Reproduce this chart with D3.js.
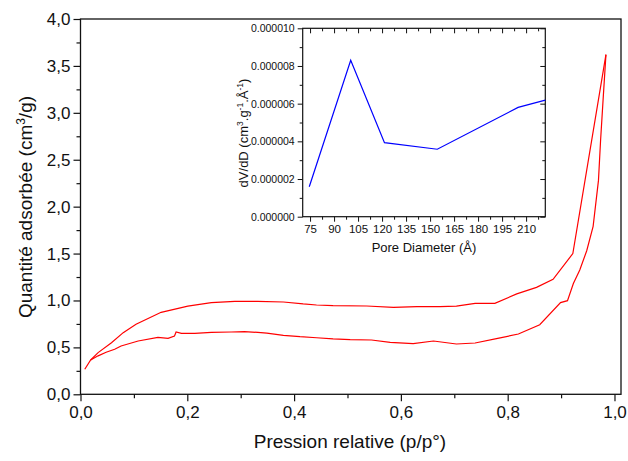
<!DOCTYPE html>
<html>
<head>
<meta charset="utf-8">
<script src="https://cdn.jsdelivr.net/npm/d3@7"></script>
<style>
  body { margin: 0; background: #fff; }
  text { font-family: "Liberation Sans", Arial, sans-serif; fill: #111; }
</style>
</head>
<body>
<script>
// isotherm, lower branch (adsorption) : relative pressure / quantity
var adsP = [0.008, 0.019, 0.033, 0.048, 0.064, 0.076, 0.108, 0.145, 0.164, 0.176, 0.179, 0.189, 0.214, 0.245, 0.282, 0.307, 0.332,
  0.349, 0.38, 0.411, 0.442, 0.473, 0.505, 0.545, 0.58, 0.623, 0.661, 0.704, 0.739, 0.779, 0.82, 0.86, 0.899, 0.912, 0.923, 0.935,
  0.948, 0.96, 0.97, 0.974, 0.979, 0.984];
var adsQ = [0.267, 0.366, 0.41, 0.448, 0.48, 0.515, 0.568, 0.607, 0.597, 0.622, 0.664, 0.65, 0.65, 0.66, 0.664, 0.667, 0.66,
  0.653, 0.629, 0.614, 0.603, 0.59, 0.582, 0.579, 0.554, 0.54, 0.568, 0.536, 0.547, 0.593, 0.643, 0.742, 0.977, 0.998, 1.18, 1.325,
  1.53, 1.79, 2.28, 2.71, 3.17, 3.62];
// upper branch (desorption)
var desP = [0.984, 0.922, 0.885, 0.854, 0.817, 0.776, 0.739, 0.704, 0.673, 0.63, 0.586, 0.536, 0.473, 0.442, 0.417, 0.38, 0.332,
  0.289, 0.245, 0.201, 0.151, 0.104, 0.08, 0.058, 0.033, 0.019];
var desQ = [3.62, 1.5, 1.226, 1.14, 1.07, 0.97, 0.97, 0.94, 0.934, 0.934, 0.927, 0.941, 0.945, 0.952, 0.963, 0.984, 0.99,
  0.99, 0.977, 0.94, 0.874, 0.746, 0.657, 0.55, 0.444, 0.366];

// inset : pore size distribution
var poreD = [74.5, 100.4, 121.5, 154.5, 205, 222];
var poreV = [1.59e-6, 8.3e-6, 3.93e-6, 3.58e-6, 5.8e-6, 6.19e-6];

var mainTicksX = [0, 0.2, 0.4, 0.6, 0.8, 1.0];
var mainTicksY = [0, 0.5, 1, 1.5, 2, 2.5, 3, 3.5, 4];
var insetTicksX = [75, 90, 105, 120, 135, 150, 165, 180, 195, 210];
var insetTicksY = [0, 2e-6, 4e-6, 6e-6, 8e-6, 1e-5];

var width = 628, height = 461;

var svg = d3.select("body").append("svg")
    .attr("width", width)
    .attr("height", height);

var comma = function(d) { return d3.format(".1f")(d).replace(".", ","); };

// ---- main plot ----
var x = d3.scaleLinear().domain([0, 1.0122]).range([80.5, 621]);
var y = d3.scaleLinear().domain([0, 4]).range([394.3, 19]);

var gMain = svg.append("g");

gMain.append("g")
    .attr("transform", "translate(0," + y(0) + ")")
    .call(d3.axisBottom(x).tickValues(d3.range(0.1, 1.01, 0.2)).tickSize(4).tickFormat(""));
gMain.append("g")
    .attr("transform", "translate(0," + y(0) + ")")
    .call(d3.axisBottom(x).tickValues(mainTicksX).tickSize(7).tickPadding(5).tickFormat(comma))
    .selectAll("text").style("font-size", "17px");

gMain.append("g")
    .attr("transform", "translate(" + x(0) + ",0)")
    .call(d3.axisLeft(y).tickValues(d3.range(0.25, 4, 0.5)).tickSize(4).tickFormat(""));
gMain.append("g")
    .attr("transform", "translate(" + x(0) + ",0)")
    .call(d3.axisLeft(y).tickValues(mainTicksY).tickSize(7).tickPadding(3).tickFormat(comma))
    .selectAll("text").style("font-size", "17px");

gMain.selectAll(".domain").remove();
gMain.selectAll(".tick line").attr("stroke", "#111").attr("stroke-width", 1.2);

gMain.append("rect")
    .attr("x", x(0)).attr("y", y(4))
    .attr("width", x.range()[1] - x(0))
    .attr("height", y(0) - y(4))
    .attr("fill", "none").attr("stroke", "#111").attr("stroke-width", 1.3);

var line = d3.line()
    .x(function(d) { return x(d[0]); })
    .y(function(d) { return y(d[1]); });

gMain.append("path")
    .datum(d3.zip(adsP, adsQ))
    .attr("d", line)
    .attr("fill", "none").attr("stroke", "#ff0000").attr("stroke-width", 1.2);
gMain.append("path")
    .datum(d3.zip(desP, desQ))
    .attr("d", line)
    .attr("fill", "none").attr("stroke", "#ff0000").attr("stroke-width", 1.2);

gMain.append("text")
    .attr("x", 350).attr("y", 448)
    .attr("text-anchor", "middle")
    .style("font-size", "19px")
    .text("Pression relative (p/p°)");

var yt = gMain.append("text")
    .attr("transform", "translate(32,207) rotate(-90)")
    .attr("text-anchor", "middle")
    .style("font-size", "19px");
yt.append("tspan").text("Quantité adsorbée (cm");
yt.append("tspan").attr("dy", -7).style("font-size", "12px").text("3");
yt.append("tspan").attr("dy", 7).text("/g)");

// ---- inset ----
var ix = d3.scaleLinear().domain([70.4, 222]).range([302.7, 545.3]);
var iy = d3.scaleLinear().domain([0, 1e-5]).range([216.7, 28.3]);

var gIn = svg.append("g");

gIn.append("rect")
    .attr("x", ix(70.4)).attr("y", iy(1e-5))
    .attr("width", ix(222) - ix(70.4))
    .attr("height", iy(0) - iy(1e-5))
    .attr("fill", "#fff");

var minorX = d3.range(82.5, 222, 15);
var minorY = d3.range(1e-6, 1e-5, 2e-6);

gIn.append("g")
    .attr("transform", "translate(0," + iy(0) + ")")
    .call(d3.axisBottom(ix).tickValues(minorX).tickSize(3).tickFormat(""));
gIn.append("g")
    .attr("transform", "translate(0," + iy(0) + ")")
    .call(d3.axisBottom(ix).tickValues(insetTicksX).tickSize(5).tickPadding(3))
    .selectAll("text").style("font-size", "11.5px");
gIn.append("g")
    .attr("transform", "translate(0," + iy(1e-5) + ")")
    .call(d3.axisBottom(ix).tickValues(minorX).tickSize(3).tickFormat(""));
gIn.append("g")
    .attr("transform", "translate(0," + iy(1e-5) + ")")
    .call(d3.axisBottom(ix).tickValues(insetTicksX).tickSize(5).tickFormat(""));

gIn.append("g")
    .attr("transform", "translate(" + ix(70.4) + ",0)")
    .call(d3.axisLeft(iy).tickValues(minorY).tickSize(3).tickFormat(""));
gIn.append("g")
    .attr("transform", "translate(" + ix(70.4) + ",0)")
    .call(d3.axisLeft(iy).tickValues(insetTicksY).tickSize(5).tickPadding(3).tickFormat(d3.format(".6f")))
    .selectAll("text").style("font-size", "10.5px");
gIn.append("g")
    .attr("transform", "translate(" + ix(222) + ",0)")
    .call(d3.axisLeft(iy).tickValues(minorY).tickSize(3).tickFormat(""));
gIn.append("g")
    .attr("transform", "translate(" + ix(222) + ",0)")
    .call(d3.axisLeft(iy).tickValues(insetTicksY).tickSize(5).tickFormat(""));

gIn.selectAll(".domain").remove();
gIn.selectAll(".tick line").attr("stroke", "#111").attr("stroke-width", 1);

gIn.append("rect")
    .attr("x", ix(70.4)).attr("y", iy(1e-5))
    .attr("width", ix(222) - ix(70.4))
    .attr("height", iy(0) - iy(1e-5))
    .attr("fill", "none").attr("stroke", "#111").attr("stroke-width", 1.2);

gIn.append("path")
    .datum(d3.zip(poreD, poreV))
    .attr("d", d3.line()
      .x(function(d) { return ix(d[0]); })
      .y(function(d) { return iy(d[1]); }))
    .attr("fill", "none").attr("stroke", "#0000ff").attr("stroke-width", 1.2);

gIn.append("text")
    .attr("x", 424).attr("y", 252)
    .attr("text-anchor", "middle")
    .style("font-size", "13px")
    .text("Pore Diameter (Å)");

var it = gIn.append("text")
    .attr("transform", "translate(248,133) rotate(-90)")
    .attr("text-anchor", "middle")
    .style("font-size", "13px");
it.append("tspan").text("dV/dD (cm");
it.append("tspan").attr("dy", -5).style("font-size", "8.5px").text("3");
it.append("tspan").attr("dy", 5).text(".g");
it.append("tspan").attr("dy", -5).style("font-size", "8.5px").text("-1");
it.append("tspan").attr("dy", 5).text(".Å");
it.append("tspan").attr("dy", -5).style("font-size", "8.5px").text("-1");
it.append("tspan").attr("dy", 5).text(")");
</script>
</body>
</html>
